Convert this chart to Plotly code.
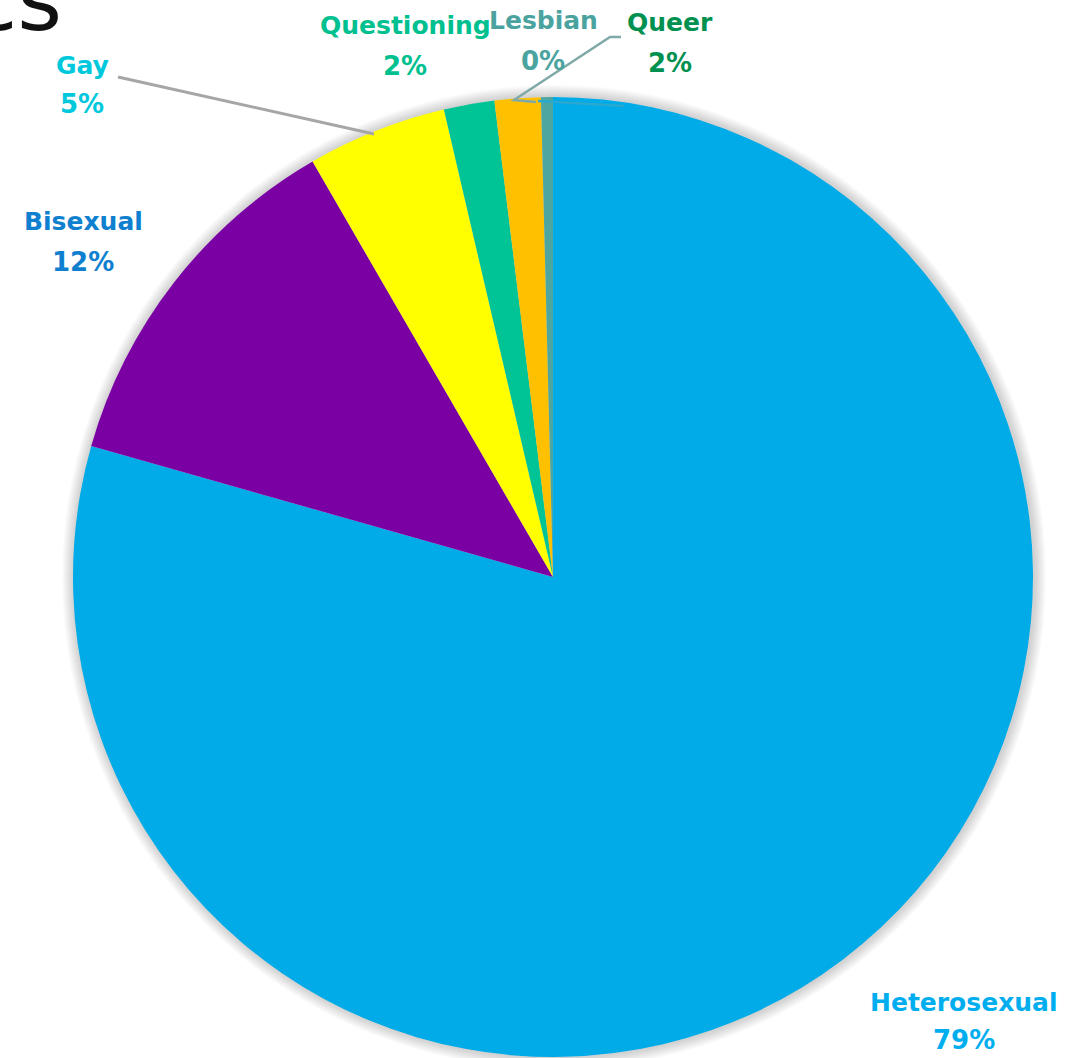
import plotly.graph_objects as go

W, H = 1092, 1058

# Survey shares (percent of respondents)
labels = ["Heterosexual", "Bisexual", "Gay", "Questioning", "Queer", "Lesbian"]
values = [79.4, 12.25, 4.7, 1.7, 1.55, 0.4]
slice_colors = ["#00ABE8", "#7A00A3", "#FFFF00", "#00C496", "#FFC000", "#4DA6A0"]
label_colors = ["#00AEEF", "#0F7FCF", "#00C8DC", "#00C090", "#00904F", "#4BA3A0"]

# label anchor positions in pixels (x centre, y of name line, y of percent line)
label_pos = {
    "Heterosexual": (964, 1002, 1040),
    "Bisexual": (83, 221, 262),
    "Gay": (82, 65, 104),
    "Questioning": (405, 25, 66),
    "Queer": (670, 23, 63),
    "Lesbian": (543, 21, 61),
}

cx, cy, r = 553, 577, 480


def px(x):
    return x / W


def py(y):
    return 1 - y / H


fig = go.Figure()
fig.add_trace(go.Pie(
    labels=labels,
    values=values,
    sort=False,
    direction="clockwise",
    rotation=0,
    marker=dict(colors=slice_colors, line=dict(width=0)),
    textinfo="none",
    hoverinfo="label+percent",
    showlegend=False,
    domain=dict(x=[px(cx - r), px(cx + r)], y=[py(cy + r), py(cy - r)]),
))

shapes = []
# soft shadow around the pie
for d in range(12, 0, -1):
    shapes.append(dict(
        type="circle", xref="paper", yref="paper", layer="below",
        x0=px(cx - r - d + 1), x1=px(cx + r + d + 1),
        y0=py(cy + r + d), y1=py(cy - r - d),
        fillcolor="rgba(120,120,120,0.028)", line=dict(width=0),
    ))

# leader lines
shapes.append(dict(type="line", xref="paper", yref="paper",
                   x0=px(118), y0=py(77), x1=px(374), y1=py(134),
                   line=dict(color="#A6A6A6", width=3)))
shapes.append(dict(type="path", xref="paper", yref="paper",
                   path=f"M {px(621)} {py(37)} L {px(610)} {py(37)} L {px(514)} {py(100)} L {px(536)} {py(102)}",
                   line=dict(color="#7FA9A8", width=2.5)))
shapes.append(dict(type="line", xref="paper", yref="paper",
                   x0=px(538), y0=py(101), x1=px(624), y1=py(106),
                   line=dict(color="#29A8D0", width=2.5)))

annotations = []
total = sum(values)
font_family = "DejaVu Sans, Verdana, sans-serif"
for lab, val, col in zip(labels, values, label_colors):
    x, y1, y2 = label_pos[lab]
    pct = round(val / total * 100)
    annotations.append(dict(
        text=f"<b>{lab}</b>", x=px(x), y=py(y1), xref="paper", yref="paper",
        xanchor="center", yanchor="middle", showarrow=False,
        font=dict(family=font_family, size=25, color=col),
    ))
    annotations.append(dict(
        text=f"<b>{pct}%</b>", x=px(x), y=py(y2), xref="paper", yref="paper",
        xanchor="center", yanchor="middle", showarrow=False,
        font=dict(family=font_family, size=26, color=col),
    ))

# tail of the slide title running off the top-left corner
annotations.append(dict(
    text="cs", x=px(64), y=py(52), xref="paper", yref="paper",
    xanchor="right", yanchor="bottom", showarrow=False,
    font=dict(family=font_family, size=86, color="#111111"),
))

fig.update_layout(
    width=W, height=H,
    margin=dict(l=0, r=0, t=0, b=0),
    paper_bgcolor="white", plot_bgcolor="white",
    shapes=shapes, annotations=annotations,
)

fig.write_html("out.html")
